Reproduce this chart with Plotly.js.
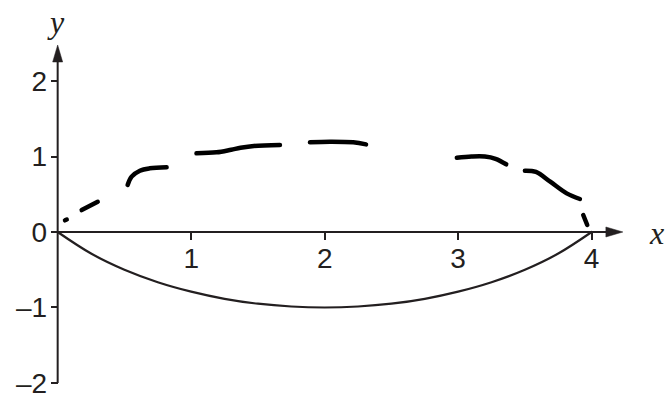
<!DOCTYPE html>
<html>
<head>
<meta charset="utf-8">
<script src="https://cdn.plot.ly/plotly-3.0.1.min.js"></script>
<style>
  html, body { margin: 0; padding: 0; background: #fff; }
  #chart { width: 666px; height: 394px; }
  .scatterlayer .js-line { stroke-linecap: round; stroke-linejoin: round; }
</style>
</head>
<body>
<div id="chart"></div>
<script>
// Lower curve (solid)
const lowerX = [0, 0.25, 0.5, 0.75, 1, 1.25, 1.5, 1.75, 2, 2.25, 2.5, 2.75, 3, 3.25, 3.5, 3.75, 4];
const lowerY = [0, -0.285, -0.5, -0.665, -0.79, -0.885, -0.95, -0.987, -1, -0.987, -0.95, -0.885, -0.79, -0.665, -0.5, -0.285, 0];

// Upper curve (hand-drawn dashes), null separates the dashes
const upperX = [0.055, 0.068, null,
  0.18, 0.30, null,
  0.524, 0.554, 0.616, 0.69, 0.816, null,
  1.04, 1.19, 1.30, 1.37, 1.47, 1.665, null,
  1.89, 2.04, 2.214, 2.31, null,
  2.99, 3.1, 3.2, 3.28, 3.36, null,
  3.50, 3.583, 3.69, 3.813, 3.912, null,
  3.937, 3.967];
const upperY = [0.155, 0.165, null,
  0.29, 0.40, null,
  0.623, 0.733, 0.812, 0.843, 0.857, null,
  1.042, 1.055, 1.09, 1.115, 1.139, 1.152, null,
  1.188, 1.196, 1.188, 1.16, null,
  0.984, 1.0, 1.0, 0.97, 0.897, null,
  0.812, 0.795, 0.666, 0.512, 0.437, null,
  0.225, 0.093];

const xTickVals = [1, 2, 3, 4];
const xTickText = ['1', '2', '3', '4'];
const yTickVals = [-2, -1, 0, 1, 2];
const yTickText = ['\u20132', '\u20131', '0', '1', '2'];

const ink = '#231f20';

const traces = [
  { x: lowerX, y: lowerY, mode: 'lines', line: { color: ink, width: 2.2, shape: 'spline' }, hoverinfo: 'skip' },
  { x: upperX, y: upperY, mode: 'lines', connectgaps: false, line: { color: '#000', width: 4.5, shape: 'spline' }, hoverinfo: 'skip' }
];

const xTip = 4.234, yTip = 2.477;

const layout = {
  width: 666, height: 394,
  margin: { l: 0, r: 0, t: 0, b: 0, pad: 0 },
  paper_bgcolor: '#fff', plot_bgcolor: '#fff',
  showlegend: false,
  font: { family: 'Liberation Sans, Arial, sans-serif', color: ink },
  xaxis: {
    range: [-0.432, 4.557], anchor: 'free', position: 0.4112,
    showgrid: false, zeroline: false, showline: false,
    ticks: 'outside', ticklen: 7, tickwidth: 2, tickcolor: ink,
    tickvals: xTickVals, ticktext: xTickText, ticklabelstandoff: -6,
    ticklabeloverflow: 'allow',
    tickfont: { size: 28, color: ink }, automargin: false, fixedrange: true
  },
  yaxis: {
    range: [-2.146, 3.073], anchor: 'free', position: 0.0866,
    showgrid: false, zeroline: false, showline: false,
    ticks: 'outside', ticklen: 7, tickwidth: 2, tickcolor: ink,
    tickvals: yTickVals, ticktext: yTickText, ticklabelstandoff: -2,
    ticklabeloverflow: 'allow',
    tickfont: { size: 28, color: ink }, automargin: false, fixedrange: true
  },
  shapes: [
    { type: 'line', xref: 'x', yref: 'y', x0: 0, y0: 0, x1: xTip - 0.05, y1: 0, line: { color: ink, width: 2 } },
    { type: 'line', xref: 'x', yref: 'y', x0: 0, y0: -2, x1: 0, y1: yTip - 0.1, line: { color: ink, width: 2 } },
    { type: 'path', xref: 'x', yref: 'y', xsizemode: 'pixel', ysizemode: 'pixel',
      xanchor: xTip, yanchor: 0, path: 'M0,0 L-17,5 L-17,-5 Z',
      fillcolor: ink, line: { color: ink, width: 0.5 } },
    { type: 'path', xref: 'x', yref: 'y', xsizemode: 'pixel', ysizemode: 'pixel',
      xanchor: 0, yanchor: yTip, path: 'M0,0 L-5,-17 L5,-17 Z',
      fillcolor: ink, line: { color: ink, width: 0.5 } }
  ],
  annotations: [
    { text: '<i>x</i>', xref: 'paper', yref: 'paper', x: 656 / 666, y: (394 - 233) / 394,
      xanchor: 'center', yanchor: 'middle', showarrow: false,
      font: { family: 'Liberation Serif, Times New Roman, serif', size: 32, color: ink } },
    { text: '<i>y</i>', xref: 'paper', yref: 'paper', x: 56 / 666, y: (394 - 22) / 394,
      xanchor: 'center', yanchor: 'middle', showarrow: false,
      font: { family: 'Liberation Serif, Times New Roman, serif', size: 32, color: ink } }
  ]
};

Plotly.newPlot('chart', traces, layout, { displayModeBar: false, staticPlot: true });
</script>
</body>
</html>
